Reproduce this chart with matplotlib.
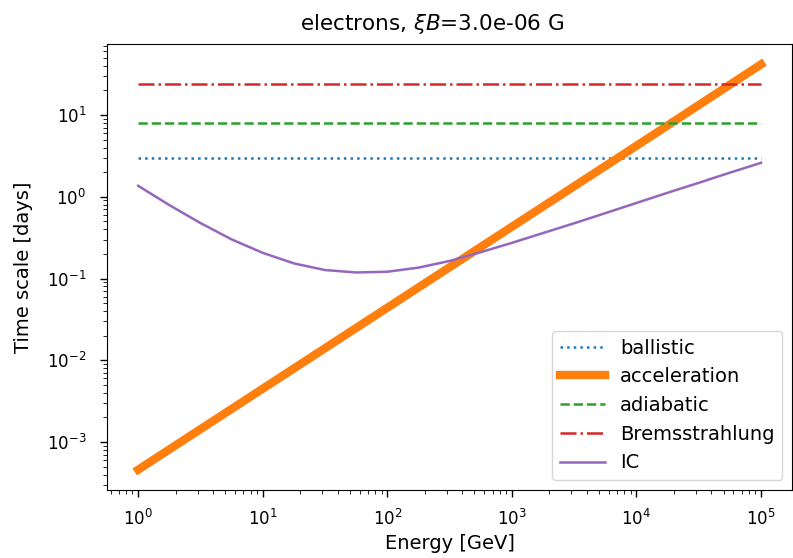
import numpy as np
import matplotlib
matplotlib.use("Agg")
import matplotlib.pyplot as plt

# Energy grid endpoints [GeV]
energy_flat = [1.0, 1e5]
ballistic = [3.0, 3.0]
adiabatic = [8.0, 8.0]
bremsstrahlung = [24.0, 24.0]

energy_acc = [1.0, 10.0, 100.0, 1e3, 1e4, 1e5]
acceleration = [4.6e-4, 4.5e-3, 4.4e-2, 0.43, 4.2, 41.6]

energy_ic = [1.0, 1.78, 3.16, 5.62, 10.0, 17.8, 31.6, 56.2, 100.0, 178.0,
             316.0, 562.0, 1000.0, 1780.0, 3160.0, 5620.0, 1e4, 1.78e4,
             3.16e4, 5.62e4, 1e5]
ic = [1.36, 0.79, 0.477, 0.301, 0.206, 0.153, 0.127, 0.1186, 0.121, 0.136,
      0.164, 0.21, 0.273, 0.36, 0.474, 0.63, 0.84, 1.12, 1.48, 1.97, 2.6]

plt.rcParams['font.size'] = 12
fig = plt.figure(figsize=(7.93, 5.58), dpi=100)
ax = fig.add_axes([0.135, 0.122, 0.864, 0.799])

ax.plot(energy_flat, ballistic, ls=':', color='C0', lw=1.8, label='ballistic')
ax.plot(energy_acc, acceleration, ls='-', color='C1', lw=6, label='acceleration')
ax.plot(energy_flat, adiabatic, ls='--', color='C2', lw=1.8, label='adiabatic')
ax.plot(energy_flat, bremsstrahlung, ls='-.', color='C3', lw=1.8, label='Bremsstrahlung')
ax.plot(energy_ic, ic, ls='-', color='C4', lw=1.8, label='IC')

ax.set_xscale('log')
ax.set_yscale('log')
ax.tick_params(which='major', length=5, width=1, labelsize=12)
ax.tick_params(axis='y', which='major', pad=10)
ax.tick_params(axis='x', which='major', pad=9)
ax.tick_params(which='minor', length=3)
ax.set_xlabel('Energy [GeV]', fontsize=14, labelpad=3)
ax.set_ylabel('Time scale [days]', fontsize=14, labelpad=10)
ax.set_title(r'electrons, $\xi B$=3.0e-06 G', fontsize=15.5, pad=10, x=0.475)
ax.legend(loc='lower right', fontsize=14, handlelength=2.3)

fig.savefig('out.png', dpi=100)
